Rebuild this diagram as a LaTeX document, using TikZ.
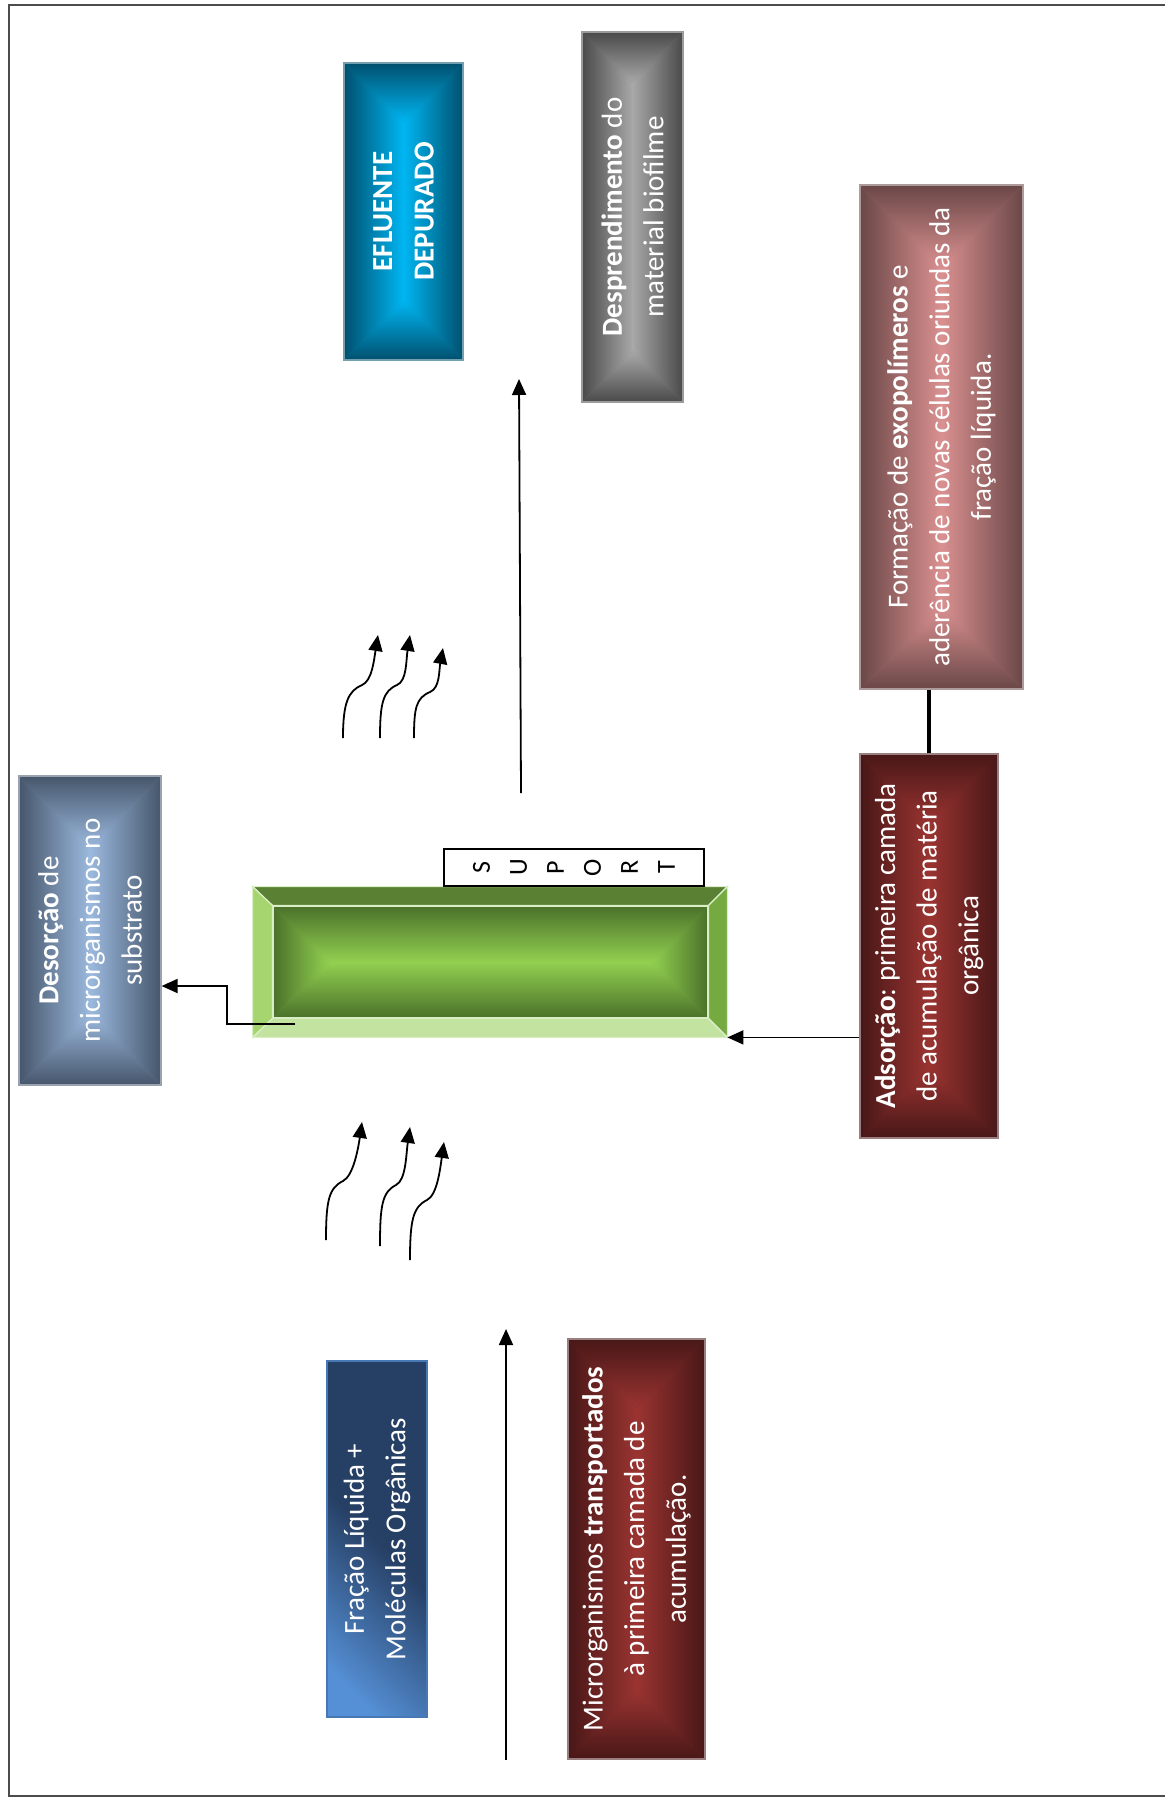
\documentclass[tikz,border=0pt]{standalone}
\usepackage{fontspec}
\setmainfont{Carlito}
\usepackage{xcolor}
\usepackage{tikz}
\usetikzlibrary{positioning, arrows.meta}

\definecolor{efluin}{HTML}{00B6F2}
\definecolor{efluout}{HTML}{00506E}
\definecolor{despin}{HTML}{A8A8A8}
\definecolor{despout}{HTML}{4A4A4A}
\definecolor{formin}{HTML}{DA9090}
\definecolor{formout}{HTML}{6A4747}
\definecolor{desoin}{HTML}{9BB9DE}
\definecolor{desoout}{HTML}{46566B}
\definecolor{redin}{HTML}{9A3431}
\definecolor{redout}{HTML}{481717}
\definecolor{fraclight}{HTML}{5590D6}
\definecolor{fracdark}{HTML}{263F64}
\definecolor{greenin}{HTML}{92D050}
\definecolor{greenout}{HTML}{4A712A}
\definecolor{greentop}{HTML}{5A8033}
\definecolor{greenbot}{HTML}{C3E3A0}
\definecolor{greenleft}{HTML}{A6D56F}
\definecolor{greenright}{HTML}{74AA3F}
\definecolor{greenedge}{HTML}{D9EEC5}

\pgfdeclareverticalshading{fracfill}{100bp}{color(0bp)=(fracdark); color(50bp)=(fracdark); color(78bp)=(fraclight); color(100bp)=(fraclight)}

% rectangle gradient from the centre: centre, width, height (px), inner, outer
\newcommand{\glowbox}[5]{%
  \pgfmathsetmacro{\gw}{#2/2}%
  \pgfmathsetmacro{\gh}{#3/2}%
  \pgfmathsetmacro{\gd}{min(\gw,\gh)}%
  \pgfmathsetmacro{\gx}{\gw-\gd}%
  \pgfmathsetmacro{\gy}{\gh-\gd}%
  \begin{scope}[shift={#1}]
    \fill[#4!50!#5] (-\gw,-\gh) rectangle (\gw,\gh);
    \shade[left color=#5, right color=#4] (-\gw,-\gh) -- (-\gx,-\gy) -- (-\gx,\gy) -- (-\gw,\gh) -- cycle;
    \shade[left color=#4, right color=#5] (\gw,-\gh) -- (\gx,-\gy) -- (\gx,\gy) -- (\gw,\gh) -- cycle;
    \shade[top color=#5, bottom color=#4] (-\gw,-\gh) -- (\gw,-\gh) -- (\gx,-\gy) -- (-\gx,-\gy) -- cycle;
    \shade[top color=#4, bottom color=#5] (-\gw,\gh) -- (\gw,\gh) -- (\gx,\gy) -- (-\gx,\gy) -- cycle;
  \end{scope}}

\begin{document}
\begin{tikzpicture}[
    x=0.5pt, y=-0.5pt,
    every node/.style={
        align=center,
        inner sep=0pt,
        text=white,
        font=\fontsize{14.5}{20.8}\selectfont
    },
    box/.style={
        rotate=90,
        draw=#1,
        line width=0.6pt
    },
    suporte/.style={
        rotate=90,
        draw=black,
        fill=white,
        text=black,
        line width=0.8pt,
        font=\fontsize{13}{18.5}\selectfont
    },
    arrow/.style={-{Triangle[length=8pt,width=7pt]}, line width=0.9pt},
    link/.style={line width=2.2pt},
    pageframe/.style={draw=black!70, line width=0.8pt}
]
\useasboundingbox (0,0) rectangle (1165,1799);
\draw[pageframe] (9,5) rectangle (1175,1796);

% Top row boxes
\glowbox{(403.5,211.5)}{119}{297}{efluin}{efluout}
\node[box=efluout!55!white, minimum width=148.5pt, minimum height=59.5pt] (eflu) at (403.5,211.5) {\textbf{EFLUENTE}\\\textbf{DEPURADO}};

\glowbox{(632.5,217)}{101}{370}{despin}{despout}
\node[box=despout!55!white, minimum width=185pt, minimum height=50.5pt] (desp) at (632.5,217) {\textbf{Desprendimento} do\\material biofilme};

\glowbox{(941.5,437)}{163}{504}{formin}{formout}
\node[box=formout!55!white, minimum width=252pt, minimum height=81.5pt] (form) at (941.5,437) {Formação de \textbf{exopolímeros} e\\aderência de novas células oriundas da\\fração líquida.};

% Support
\node[fill=greenbot, minimum width=237pt, minimum height=75pt] (sup) at (490,962) {};
\glowbox{(490.5,962)}{435}{112}{greenin}{greenout}
\node[draw=greenedge, line width=0.6pt, minimum width=217.5pt, minimum height=56pt] (supin) at (490.5,962) {};
\filldraw[fill=greentop, draw=greenedge, line width=0.6pt] (sup.north west) -- (sup.north east) -- (supin.north east) -- (supin.north west) -- cycle;
\filldraw[fill=greenleft, draw=greenedge, line width=0.6pt] (sup.north west) -- (supin.north west) -- (supin.south west) -- (sup.south west) -- cycle;
\filldraw[fill=greenright, draw=greenedge, line width=0.6pt] (sup.north east) -- (supin.north east) -- (supin.south east) -- (sup.south east) -- cycle;
\draw[greenedge, line width=0.6pt] (sup.north west) rectangle (sup.south east);
\draw[greenedge, line width=0.6pt] (supin.south west) -- (sup.south west);
\draw[greenedge, line width=0.6pt] (supin.south east) -- (sup.south east);

\node[suporte, minimum width=18.5pt, minimum height=130pt] (suplabel) at (574,867.5) {S\\U\\P\\O\\R\\T};

% Side boxes
\glowbox{(90,930.5)}{142}{309}{desoin}{desoout}
\node[box=desoout!55!white, minimum width=154.5pt, minimum height=71pt] (deso) at (90,930.5) {\textbf{Desorção} de\\microrganismos no\\substrato};

\glowbox{(929,946)}{138}{384}{redin}{redout}
\node[box=redout!55!white, minimum width=192pt, minimum height=69pt] (adso) at (929,946) {\textbf{Adsorção}:\ primeira camada\\de acumulação de matéria\\orgânica};

% Bottom row boxes
\node[rotate=90, shading=fracfill, shading angle=135, draw=fraclight!70!fracdark, line width=0.6pt, minimum width=178pt, minimum height=50pt] (frac) at (377,1539) {Fração Líquida +\\Moléculas Orgânicas};

\glowbox{(636.5,1549)}{137}{420}{redin}{redout}
\node[box=redout!55!white, minimum width=210pt, minimum height=68.5pt] (micro) at (636.5,1549) {Microrganismos \textbf{transportados}\\à primeira camada de\\acumulação.};

% Free ends of the arrows
\coordinate (upbot) at (521,793);
\coordinate (uptop) at (519,379);
\coordinate (inbot) at (506,1760);
\coordinate (intop) at (506,1329);
\coordinate (dsout) at (295,1024);
\coordinate (dsbend) at (227,986);

% Connectors
\draw[arrow] (upbot) -- (uptop);
\draw[arrow] (inbot) -- (intop);
\draw[arrow] (dsout) -| (dsbend) -- (deso.south |- dsbend);
\draw[arrow] (adso.north |- sup.south east) -- (sup.south east);
\draw[link] (adso.east) -- (adso.east |- form.west);

% Waves above the support
\coordinate (tw1a) at (343,738);
\coordinate (tw1b) at (362,685);
\coordinate (tw1c) at (378,635);
\coordinate (tw2a) at (380,738);
\coordinate (tw2b) at (397,685);
\coordinate (tw2c) at (410,635);
\coordinate (tw3a) at (414,738);
\coordinate (tw3b) at (430,692);
\coordinate (tw3c) at (443,648);
\draw[arrow] (tw1a) .. controls +(0,-35) and +(-14,6) .. (tw1b) .. controls +(10,-4) and +(-4,25) .. (tw1c);
\draw[arrow] (tw2a) .. controls +(0,-35) and +(-14,6) .. (tw2b) .. controls +(10,-4) and +(-4,25) .. (tw2c);
\draw[arrow] (tw3a) .. controls +(0,-30) and +(-14,6) .. (tw3b) .. controls +(10,-4) and +(-4,22) .. (tw3c);

% Waves below the support
\coordinate (bw1a) at (326,1240);
\coordinate (bw1b) at (343,1181);
\coordinate (bw1c) at (362,1122);
\coordinate (bw2a) at (380,1246);
\coordinate (bw2b) at (396,1185);
\coordinate (bw2c) at (410,1127);
\coordinate (bw3a) at (410,1260);
\coordinate (bw3b) at (427,1200);
\coordinate (bw3c) at (444,1142);
\draw[arrow] (bw1a) .. controls +(0,-40) and +(-14,7) .. (bw1b) .. controls +(10,-5) and +(-4,28) .. (bw1c);
\draw[arrow] (bw2a) .. controls +(0,-40) and +(-14,7) .. (bw2b) .. controls +(10,-5) and +(-4,28) .. (bw2c);
\draw[arrow] (bw3a) .. controls +(0,-40) and +(-14,7) .. (bw3b) .. controls +(10,-5) and +(-4,28) .. (bw3c);

\end{tikzpicture}
\end{document}
